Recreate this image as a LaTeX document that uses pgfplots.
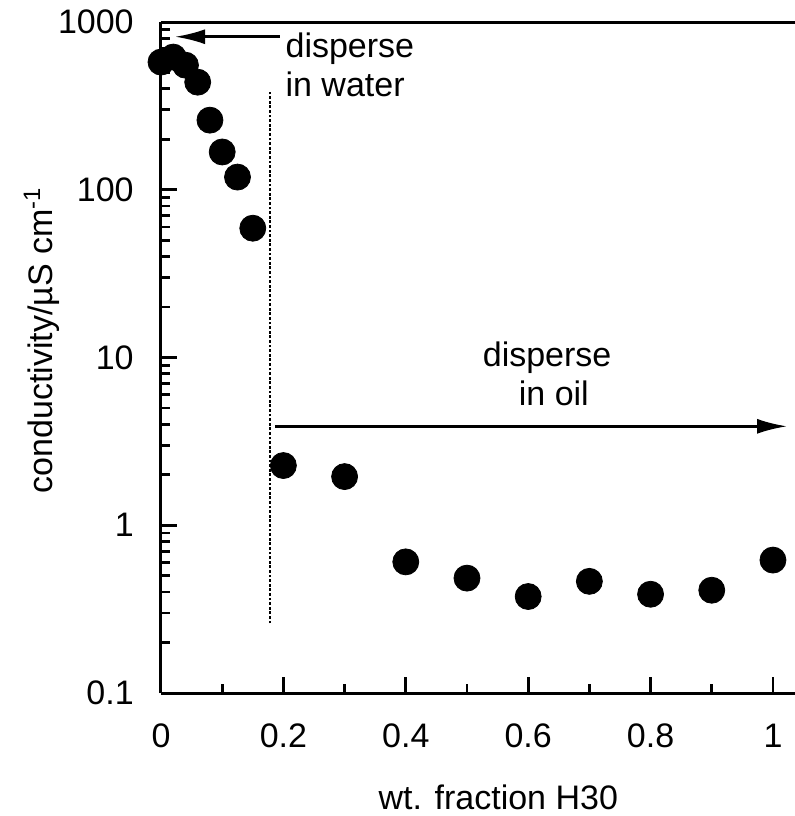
\documentclass[border=0pt]{standalone}
\usepackage{fontspec}
\setmainfont{Liberation Sans}
\usepackage{pgfplots}
\pgfplotsset{compat=1.18}
\usetikzlibrary{arrows.meta}
\begin{document}
\fontsize{17}{19.5}\selectfont
\begin{tikzpicture}
\useasboundingbox (-80.5pt,-61.5pt) rectangle (317pt,346.5pt);
\begin{axis}[
  at={(0,0)}, anchor=south west,
  scale only axis, width=317pt, height=335.5pt,
  xmin=0, xmax=1.036, ymin=0.1, ymax=1000, ymode=log,
  axis x line=box, axis y line=left,
  x axis line style={-, line width=1.5pt},
  y axis line style={-, line width=1.5pt},
  tick align=inside, xtick pos=bottom, ytick pos=left,
  every tick/.style={black, line width=1.4pt},
  major tick length=8pt, minor tick length=4.5pt,
  xtick={0,0.2,0.4,0.6,0.8,1},
  xticklabels={0,0.2,0.4,0.6,0.8,1},
  minor xtick={0.1,0.3,0.5,0.7,0.9},
  ytick={0.1,1,10,100,1000},
  yticklabels={0.1,1,10,100,1000},
  minor ytick={0.2,0.3,0.4,0.5,0.6,0.7,0.8,0.9,2,3,4,5,6,7,8,9,20,30,40,50,60,70,80,90,200,300,400,500,600,700,800,900},
  xticklabel style={yshift=-9.5pt},
  yticklabel style={xshift=-7.8pt},
  xlabel={wt. fraction H30},
  xlabel style={at={(rel axis cs:0.532,0)}, anchor=north, yshift=-40pt},
  ylabel={conductivity/µS cm\textsuperscript{-1}},
  ylabel style={at={(rel axis cs:-0.188,0.526)}, anchor=center},
  clip=false,
]
\addplot[only marks, mark=*, mark size=6.5pt, black] coordinates {
  (0,577) (0.02,618) (0.04,553) (0.06,438) (0.08,260) (0.10,168)
  (0.125,119) (0.15,59)
  (0.2,2.27) (0.3,1.95) (0.4,0.605) (0.5,0.484) (0.6,0.376)
  (0.7,0.463) (0.8,0.388) (0.9,0.41) (1.0,0.62)
};
\draw[line width=1.2pt, dash pattern=on 1.4pt off 0.9pt] (axis cs:0.178,0.26) -- (axis cs:0.178,382);
\draw[line width=1.3pt, -{Latex[length=15pt,width=7.5pt]}] (axis cs:0.194,817) -- (axis cs:0.023,817);
\draw[line width=1.3pt, -{Latex[length=15pt,width=7.5pt]}] (axis cs:0.186,3.89) -- (axis cs:1.023,3.89);
\node[anchor=base west, inner sep=0pt] at (axis cs:0.203,618) {disperse};
\node[anchor=base west, inner sep=0pt] at (axis cs:0.203,361) {in water};
\node[anchor=base, inner sep=0pt] at (axis cs:0.631,8.83) {disperse};
\node[anchor=base, inner sep=0pt] at (axis cs:0.642,5.17) {in oil};
\end{axis}
\end{tikzpicture}
\end{document}
